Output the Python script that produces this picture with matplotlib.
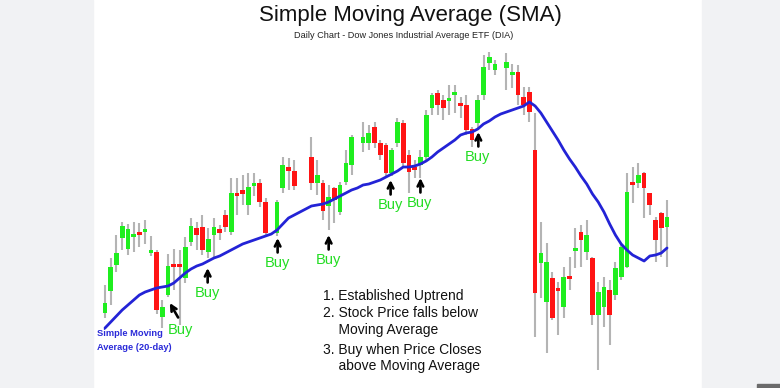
import numpy as np
import matplotlib
matplotlib.use("Agg")
import matplotlib.pyplot as plt
from matplotlib.patches import Rectangle

nan = np.nan
# ---- data (price units) ----
opens = [98.7, 100.9, 103.5, 106.2, 105.1, 106.3, 106.7, 106.8, 104.7, 104.8,
         98.3, 100.5, 103.5, 103.4, 102.2, 105.8, 107.2, 107.3, 104.8, 106.5,
         107.1, 108.5, 106.8, 110.6, 111.0, 109.5, 111.4, 111.7, 109.8, nan,
         106.7, 111.2, 113.3, 112.9, nan, nan, 114.3, 111.7, 111.7, 109.4,
         111.2, 108.8, 111.8, 113.5, nan, 115.7, 115.7, 117.3, 115.7, 115.5,
         112.7, 115.7, 117.7, 114.5, 113.2, 113.5, 114.3, 119.2, 120.7, 120.0,
         119.9, 120.5, 119.7, 119.5, 117.1, 117.7, 120.5, 123.7, 123.0, nan,
         123.2, 122.5, 122.8, 120.3, 120.8, 115.0, 103.7, 99.8, 102.2, 101.0,
         99.3, 102.3, 104.9, 106.8, 104.8, 104.2, 98.5, 99.3, 101.0, 100.5,
         102.3, 103.3, 111.7, 111.7, 112.7, 110.7, 108.0, 108.7, 107.3]
closes = [99.7, 103.3, 104.7, 107.4, 107.1, 106.5, 106.5, 107.0, 104.9, 99.0,
          99.3, 103.4, 103.3, 103.3, 105.3, 107.4, 106.5, 105.0, 106.1, 107.3,
          106.7, 107.3, 110.7, 110.4, 110.6, 111.3, 111.5, 109.8, 106.7, nan,
          109.8, 113.5, 112.9, 111.4, nan, nan, 111.7, 112.5, 108.9, 110.3,
          110.0, 111.5, 113.7, 116.3, nan, 116.3, 116.7, 115.7, 114.5, 112.7,
          115.0, 117.8, 113.7, 112.8, 113.0, 114.3, 118.5, 120.5, 119.5, 119.2,
          120.1, 120.6, 119.4, 117.0, 116.0, 120.0, 123.3, 124.3, 123.6, nan,
          123.8, 122.8, 120.5, 119.5, 118.8, 100.7, 104.7, 103.8, 98.2, 100.9,
          102.3, 102.1, 105.2, 106.0, 106.5, 98.5, 100.8, 101.3, 98.5, 103.2,
          105.3, 110.8, 111.5, 112.5, 111.2, 109.5, 106.0, 107.2, 108.3]
highs = [101.5, 104.2, 106.5, 107.8, 107.6, 107.8, 107.7, 108.0, 106.4, 105.0,
         100.0, 104.6, 105.1, 105.0, 106.3, 108.2, 107.8, 108.5, 107.2, 108.2,
         107.5, 109.0, 112.2, 112.2, 112.5, 112.7, 112.7, 112.1, 110.2, nan,
         110.0, 114.3, 114.2, 114.0, nan, nan, 116.3, 114.0, 112.0, 111.5,
         111.3, 111.8, 115.0, 116.5, nan, 117.8, 117.5, 117.8, 116.0, 115.7,
         115.2, 118.2, 118.0, 115.0, 114.0, 115.0, 119.0, 120.7, 121.0, 120.5,
         121.5, 121.5, 120.3, 120.5, 117.3, 120.5, 124.5, 124.8, 124.0, nan,
         124.7, 123.6, 123.5, 121.3, 121.3, 118.7, 107.8, 105.7, 102.8, 101.8,
         103.3, 104.3, 107.2, 107.5, 108.0, 104.3, 101.8, 102.3, 102.0, 103.8,
         105.5, 112.7, 113.3, 113.7, 112.8, 110.7, 108.3, 108.8, 110.0]
lows = [98.2, 99.5, 102.8, 105.0, 104.5, 104.8, 105.3, 105.6, 104.4, 98.6,
        97.2, 100.3, 101.0, 97.5, 101.7, 105.4, 105.0, 104.5, 104.2, 104.2,
        106.0, 106.8, 106.5, 108.5, 109.5, 108.5, 110.4, 109.3, 106.4, nan,
        106.4, 110.7, 111.0, 111.0, nan, nan, 111.0, 110.5, 108.0, 107.0,
        107.7, 108.5, 111.5, 112.5, nan, 114.8, 115.0, 115.2, 114.0, 112.2,
        112.4, 115.3, 113.2, 110.7, 112.2, 112.2, 114.0, 118.5, 118.5, 118.0,
        118.5, 118.7, 118.2, 116.5, 115.3, 117.0, 120.0, 123.0, 122.5, nan,
        121.0, 121.2, 119.5, 118.5, 117.8, 96.3, 100.2, 94.7, 98.0, 96.5,
        98.2, 101.0, 103.2, 103.3, 104.0, 97.5, 93.0, 97.3, 95.5, 100.0,
        102.0, 103.2, 109.7, 111.2, 108.2, 108.5, 103.8, 104.3, 103.3]
sma20 = [97.2, 97.8, 98.4, 99.0, 99.5, 100.0, 100.5, 100.8, 101.0, 101.2,
         101.3, 101.4, 101.7, 102.2, 102.7, 103.1, 103.4, 103.6, 103.9, 104.2,
         104.4, 104.7, 105.0, 105.3, 105.6, 105.8, 106.0, 106.2, 106.4, 106.6,
         107.0, 107.6, 108.2, 108.5, 108.8, 109.1, 109.4, 109.5, 109.6, 109.8,
         110.1, 110.4, 110.7, 111.0, 111.2, 111.5, 111.6, 111.8, 112.0, 112.3,
         112.6, 112.9, 113.3, 113.3, 113.4, 113.6, 113.9, 114.3, 114.8, 115.2,
         115.6, 116.0, 116.5, 116.7, 116.8, 117.1, 117.6, 117.9, 118.3, 118.6,
         118.8, 119.0, 119.2, 119.4, 119.8, 119.4, 118.7, 117.8, 116.9, 116.0,
         115.0, 114.1, 113.3, 112.4, 111.6, 110.6, 109.8, 108.8, 107.6, 106.5,
         105.6, 105.0, 104.5, 104.2, 103.9, 104.4, 104.5, 104.7, 105.2]

# Buy signals: (day index, price of label)
buy_days = [13.1, 17.8, 30.0, 38.9, 49.7, 54.9, 65.0]
buy_label_prices = [97.0, 100.7, 103.7, 104.0, 109.5, 109.7, 114.3]
steps = ["1. Established Uptrend", "2. Stock Price falls below",
         "    Moving Average", "3. Buy when Price Closes",
         "    above Moving Average"]

# ---- figure ----
W, H = 780, 388
fig = plt.figure(figsize=(W / 100, H / 100), dpi=100)
fig.patch.set_facecolor("white")
fig.add_artist(Rectangle((0, 0), 93 / W, 1, transform=fig.transFigure,
                         color="#f1f2f4", zorder=-5))
fig.add_artist(Rectangle((702 / W, 0), 1 - 702 / W, 1, transform=fig.transFigure,
                         color="#f1f2f4", zorder=-5))
fig.add_artist(Rectangle((757 / W, 0), 23 / W, 4 / H, transform=fig.transFigure,
                         color="#6b6b6b", zorder=-4))

ax = fig.add_axes([0, 0, 1, 1])
ax.patch.set_visible(False)
ax.axis("off")
step = 5.735
ax.set_xlim(-105 / step, (W - 105) / step)
ax.set_ylim(130 - H / 10, 130)

o = np.array(opens); c = np.array(closes)
h = np.array(highs); l = np.array(lows)
x = np.arange(len(o))
ok = ~np.isnan(o)

GREEN = "#1fee1f"
RED = "#ff1414"
ax.vlines(x[ok], l[ok], h[ok], color="#b4b4b4", lw=1.5, zorder=1)
bottoms = np.minimum(o, c)
heights = np.maximum(np.abs(c - o), 0.3)
cols = [GREEN if cc >= oo else RED for oo, cc in zip(o, c)]
ax.bar(x[ok], heights[ok], bottom=bottoms[ok], width=0.82,
       color=[cols[i] for i in range(len(o)) if ok[i]], linewidth=0, zorder=2)

ax.plot(x, sma20, color="#2323d6", lw=2.0, zorder=3, solid_capstyle="round")

font = "Liberation Sans"
# Buy labels and arrows
for k, (bd, bp) in enumerate(zip(buy_days, buy_label_prices)):
    ax.text(bd, bp, "Buy", color="#22dd22", fontsize=10.5, family=font,
            ha="center", va="center", zorder=5)
    if k == 0:
        ax.annotate("", xy=(bd - 1.8, bp + 2.7), xytext=(bd - 0.35, bp + 1.25),
                    arrowprops=dict(arrowstyle="->", lw=1.9, color="black",
                                    mutation_scale=10, shrinkA=0, shrinkB=0))
    else:
        ax.annotate("", xy=(bd + 0.1, bp + 2.5), xytext=(bd + 0.1, bp + 1.05),
                    arrowprops=dict(arrowstyle="->", lw=1.9, color="black",
                                    mutation_scale=10, shrinkA=0, shrinkB=0))

def fx(px):
    return px / W

def fy(py):
    return 1 - py / H

fig.text(fx(410), fy(15), "Simple Moving Average (SMA)", fontsize=16,
         family=font, ha="center", va="center", color="#111111")
fig.text(fx(404), fy(35), "Daily Chart - Dow Jones Industrial Average ETF (DIA)",
         fontsize=6.6, family=font, ha="center", va="center", color="#222222")

line_y = [296, 313, 330, 350, 366]
for s, yy in zip(steps, line_y):
    fig.text(fx(323), fy(yy), s, fontsize=10, family=font, ha="left",
             va="center", color="#111111")

fig.text(fx(97), fy(334), "Simple Moving", fontsize=6.7, family=font,
         weight="bold", ha="left", va="center", color="#2a2ad8")
fig.text(fx(97), fy(348), "Average (20-day)", fontsize=6.7, family=font,
         weight="bold", ha="left", va="center", color="#2a2ad8")

fig.savefig("out.png", dpi=100)
